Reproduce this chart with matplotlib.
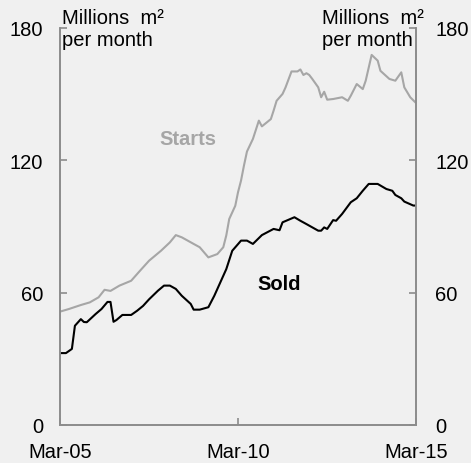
import pandas as pd
import matplotlib
matplotlib.use("Agg")
import matplotlib.pyplot as plt
import matplotlib.dates as mdates

# meses desde Mar-05 y valores leidos (millones de m2 por mes)
sold_mes = [0, 2, 4, 5, 7, 8, 9, 12, 14, 16, 17, 18, 19, 21, 24, 26, 28, 30, 33, 35,
            37, 39, 41, 44, 45, 47, 50, 52, 54, 56, 58, 60, 61, 63, 65, 68, 72, 74, 75,
            79, 81, 83, 87, 88, 89, 90, 92, 93, 95, 98, 100, 102, 104, 107, 110, 112,
            113, 115, 116, 119, 120]
sold_val = [32.6, 32.6, 34.5, 45.0, 48.0, 46.7, 46.6, 50.3, 52.6, 55.8, 55.8, 46.8,
            47.6, 49.9, 49.9, 51.8, 54.0, 57.0, 60.9, 63.2, 63.2, 61.7, 58.6, 54.9,
            52.3, 52.3, 53.4, 58.6, 64.7, 70.7, 79.0, 82.0, 83.6, 83.6, 82.1, 86.1,
            88.9, 88.3, 91.9, 94.2, 92.6, 91.1, 88.1, 88.1, 89.6, 88.9, 92.9, 92.6,
            95.7, 101.0, 102.8, 106.2, 109.3, 109.3, 107.0, 106.2, 104.3, 102.8,
            101.3, 99.5, 99.5]

starts_mes = [0, 3, 7, 10, 13, 15, 17, 20, 24, 27, 30, 34, 37, 39, 41, 45, 47, 50, 53,
              55, 56, 57, 59, 60, 61, 62, 63, 65, 67, 68, 71, 72, 73, 75, 76, 78, 80,
              81, 82, 83, 84, 85, 87, 88, 89, 90, 92, 95, 97, 98, 100, 102, 103, 105,
              107, 108, 111, 113, 115, 116, 118, 120]
starts_val = [51.4, 52.6, 54.4, 55.6, 57.9, 61.3, 60.8, 63.2, 65.4, 70.0, 74.5, 79.0,
              82.8, 86.1, 85.1, 82.1, 80.6, 76.0, 77.5, 80.6, 86.0, 93.4, 99.4, 105.5,
              110.8, 117.6, 124.0, 129.7, 138.0, 135.4, 138.7, 142.5, 147.0, 150.1,
              153.0, 160.3, 160.3, 161.2, 158.7, 159.5, 158.7, 156.9, 153.1, 148.6,
              151.1, 147.5, 147.8, 148.6, 147.0, 149.3, 154.6, 152.3, 156.1, 167.8,
              165.2, 160.6, 156.9, 156.1, 159.9, 153.1, 148.6, 146.0]

yticks = [0, 60, 120, 180]
inicio = pd.Timestamp("2005-03-01")
xticks = [inicio + pd.DateOffset(months=m) for m in (0, 60, 120)]

def fechas(meses):
    return [inicio + pd.DateOffset(months=m) for m in meses]

fondo = "#f0f0f0"
gris_eje = "#8c8c8c"
plt.rcParams["font.family"] = ["Liberation Sans", "DejaVu Sans"]
plt.rcParams["font.size"] = 14.5

fig = plt.figure(figsize=(4.71, 4.64), dpi=100, facecolor=fondo)
ax = fig.add_axes([60/471, 38/464, 356/471, 397/464])
ax.set_facecolor(fondo)

ax.plot(fechas(starts_mes), starts_val, color="#a6a6a6", lw=1.5)
ax.plot(fechas(sold_mes), sold_val, color="black", lw=1.5)

ax.set_ylim(0, 180)
ax.set_xlim(xticks[0], xticks[-1])
ax.set_yticks(yticks)
ax.set_xticks(xticks)
ax.xaxis.set_major_formatter(mdates.DateFormatter("%b-%y"))

ax2 = ax.twinx()
ax2.set_ylim(0, 180)
ax2.set_yticks(yticks)

for a in (ax, ax2):
    a.spines["top"].set_visible(False)
    for s in ("left", "right", "bottom"):
        a.spines[s].set_color(gris_eje)
        a.spines[s].set_linewidth(1.2)
    a.tick_params(direction="in", length=5, width=1.2, color=gris_eje)
ax.tick_params(axis="y", pad=12)
ax.tick_params(axis="x", pad=12)
ax2.tick_params(axis="y", pad=14)

# unidades arriba, sobre el borde del grafico
fig.text(62/471, 1 - 9/464, "Millions  m²\nper month", ha="left", va="top",
         linespacing=1.2)
fig.text(322/471, 1 - 9/464, "Millions  m²\nper month", ha="left", va="top",
         linespacing=1.2)

ax.text(inicio + pd.DateOffset(months=43), 129.7, "Starts", color="#a6a6a6",
        fontweight="bold", ha="center", va="center")
ax.text(inicio + pd.DateOffset(months=74), 64, "Sold", color="black",
        fontweight="bold", ha="center", va="center")

fig.savefig("out.png", dpi=100, facecolor=fondo)
